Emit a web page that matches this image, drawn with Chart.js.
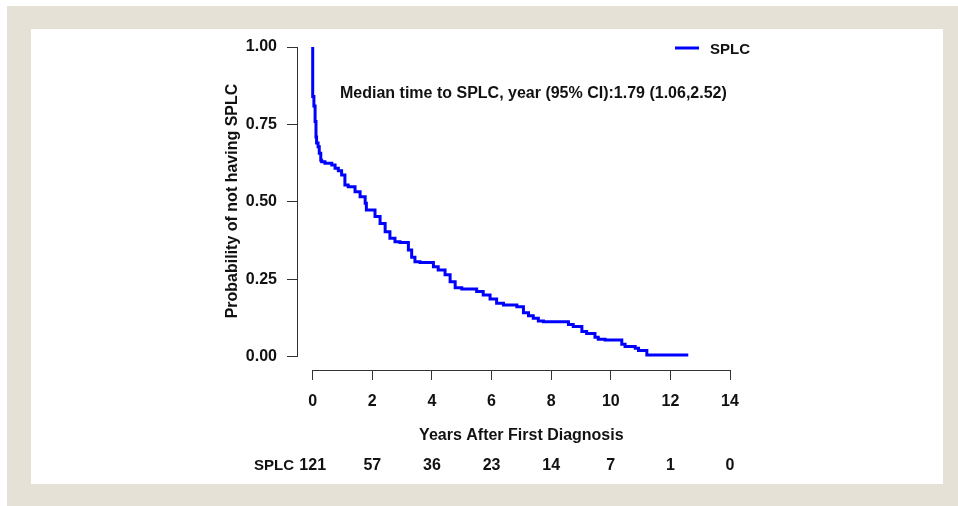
<!DOCTYPE html>
<html>
<head>
<meta charset="utf-8">
<script src="https://cdn.jsdelivr.net/npm/chart.js@4.4.1/dist/chart.umd.min.js"></script>
<style>
  body { margin: 0; background: #fff; }
  #frame { position: absolute; left: 7px; top: 6px; width: 951px; height: 500px; background: #e6e1d6; }
  #panel { position: absolute; left: 31px; top: 29px; width: 912px; height: 455px; background: #fff; }
  #myChart { position: absolute; left: 0; top: 0; }
</style>
</head>
<body>
<div id="frame"></div>
<div id="panel"></div>
<canvas id="myChart" width="958" height="506"></canvas>
<script>
// Kaplan-Meier curve (years, probability)
const years = [0, 0.04, 0.08, 0.11, 0.13, 0.18, 0.22, 0.27, 0.30, 0.41, 0.64, 0.75, 0.86, 0.97, 1.08, 1.19, 1.42, 1.59, 1.76, 1.80,
  2.09, 2.26, 2.43, 2.59, 2.76, 2.93, 3.21, 3.32, 3.43, 3.60, 4.05, 4.21, 4.44, 4.61, 4.78, 5.00, 5.50, 5.72, 5.95,
  6.17, 6.40, 6.85, 7.07, 7.24, 7.40, 7.57, 7.74, 8.58, 8.74, 9.03, 9.19, 9.47, 9.58, 9.81, 10.37, 10.48, 10.82,
  10.93, 11.21, 11.43, 12.6];
const survival = [1, 0.84, 0.81, 0.76, 0.71, 0.69, 0.678, 0.657, 0.635, 0.63, 0.625, 0.619, 0.609, 0.601, 0.587, 0.555, 0.549, 0.533, 0.517, 0.496,
  0.474, 0.453, 0.431, 0.404, 0.383, 0.372, 0.369, 0.345, 0.322, 0.307, 0.305, 0.291, 0.281, 0.265, 0.243, 0.223, 0.219, 0.211, 0.2,
  0.187, 0.173, 0.168, 0.162, 0.143, 0.133, 0.125, 0.116, 0.114, 0.105, 0.098, 0.082, 0.076, 0.064, 0.057, 0.055, 0.041, 0.034,
  0.028, 0.021, 0.006, 0.006];

const xTicks = [0, 2, 4, 6, 8, 10, 12, 14];
const yTicks = [0, 0.25, 0.5, 0.75, 1];
const riskTimes = [0, 2, 4, 6, 8, 10, 12, 14];
const riskCounts = [121, 57, 36, 23, 14, 7, 1, 0];

const seriesName = 'SPLC';
const medianText = 'Median time to SPLC, year (95% CI):1.79 (1.06,2.52)';
const xTitle = 'Years After First Diagnosis';
const yTitle = 'Probability of not having SPLC';

const FONT = '"Liberation Sans", Arial, sans-serif';
const AXIS = '#333';

const extras = {
  id: 'extras',
  afterDraw(chart) {
    const c = chart.ctx;
    const xs = chart.scales.x, ys = chart.scales.y;
    c.save();
    // axis lines, R style (only between first and last tick)
    c.strokeStyle = AXIS;
    c.lineWidth = 1;
    const ax = Math.round(ys.right) + 0.5;
    c.beginPath();
    c.moveTo(ax, ys.getPixelForValue(0));
    c.lineTo(ax, ys.getPixelForValue(1));
    c.stroke();
    const ay = Math.round(xs.top) + 0.5;
    c.beginPath();
    c.moveTo(xs.getPixelForValue(0), ay);
    c.lineTo(xs.getPixelForValue(14), ay);
    c.stroke();

    c.fillStyle = '#111';
    c.font = 'bold 16px ' + FONT;
    c.textBaseline = 'middle';
    // median text
    c.textAlign = 'left';
    c.fillText(medianText, 340, 94);
    // legend
    c.strokeStyle = '#0000ff';
    c.lineWidth = 3;
    c.beginPath();
    c.moveTo(675, 48);
    c.lineTo(699, 48);
    c.stroke();
    c.font = 'bold 15px ' + FONT;
    c.fillText(seriesName, 710, 50);
    // x title
    c.font = 'bold 16px ' + FONT;
    c.textAlign = 'center';
    c.fillText(xTitle, (xs.getPixelForValue(0) + xs.getPixelForValue(14)) / 2, 436);
    // number at risk
    riskTimes.forEach((t, i) => {
      c.fillText(String(riskCounts[i]), xs.getPixelForValue(t), 466);
    });
    c.textAlign = 'right';
    c.font = 'bold 15px ' + FONT;
    c.fillText(seriesName, 294, 466);
    // y title
    c.font = 'bold 16px ' + FONT;
    c.translate(233, 201);
    c.rotate(-Math.PI / 2);
    c.textAlign = 'center';
    c.fillText(yTitle, 0, 0);
    c.restore();
  }
};

new Chart(document.getElementById('myChart'), {
  type: 'line',
  data: {
    datasets: [{
      label: seriesName,
      data: years.map((t, i) => ({ x: t, y: survival[i] })),
      borderColor: '#0000ff',
      borderWidth: 3,
      pointRadius: 0,
      stepped: 'after',
      clip: false
    }]
  },
  options: {
    responsive: false,
    animation: false,
    devicePixelRatio: 1,
    layout: { padding: { top: 47, right: 228, left: 0, bottom: 0 } },
    plugins: { legend: { display: false }, tooltip: { enabled: false } },
    scales: {
      x: {
        type: 'linear',
        min: -0.527,
        max: 14,
        afterBuildTicks: s => { s.ticks = xTicks.map(v => ({ value: v })); },
        afterFit: s => { s.height = 136; },
        border: { display: false },
        grid: { drawOnChartArea: false, drawTicks: true, tickLength: 10, color: AXIS },
        ticks: { color: '#111', font: { family: FONT, size: 16, weight: 'bold' }, padding: 12, maxRotation: 0 }
      },
      y: {
        type: 'linear',
        min: -0.042,
        max: 1,
        afterBuildTicks: s => { s.ticks = yTicks.map(v => ({ value: v })); },
        afterFit: s => { s.width = 297; },
        border: { display: false },
        grid: { drawOnChartArea: false, drawTicks: true, tickLength: 10, color: AXIS },
        ticks: { color: '#111', font: { family: FONT, size: 16, weight: 'bold' }, padding: 10,
          callback: v => v.toFixed(2) }
      }
    }
  },
  plugins: [extras]
});
</script>
</body>
</html>
